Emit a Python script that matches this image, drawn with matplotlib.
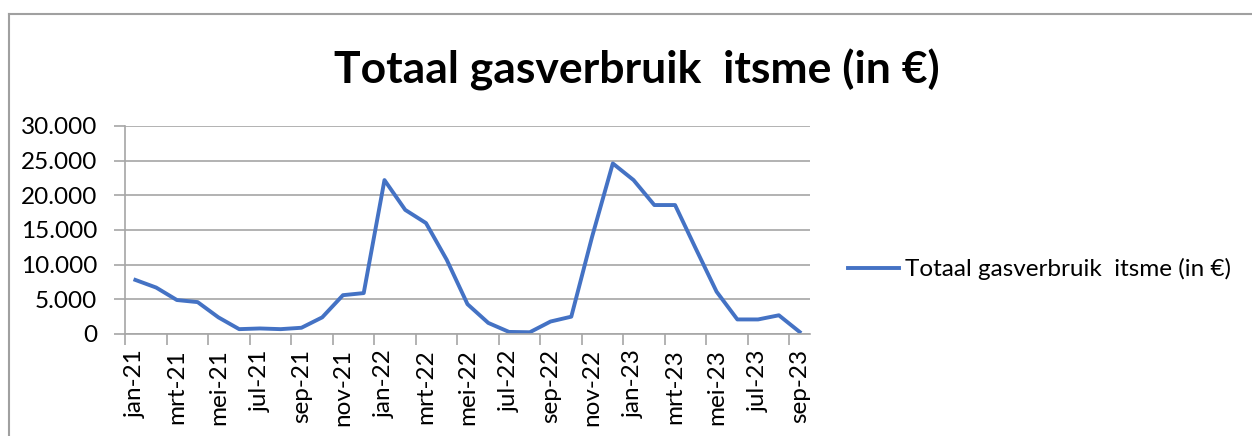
import matplotlib
matplotlib.use("Agg")
import matplotlib.pyplot as plt
from matplotlib.lines import Line2D
from matplotlib.ticker import FuncFormatter, FixedLocator

plt.rcParams['font.family'] = ['Lato', 'DejaVu Sans']

months = ["jan", "feb", "mrt", "apr", "mei", "jun", "jul", "aug", "sep", "okt", "nov", "dec"]
categories = []
for yy in ["21", "22", "23"]:
    for m in months:
        categories.append(f"{m}-{yy}")
categories = categories[:33]  # jan-21 .. sep-23

values = [7800, 6700, 4900, 4600, 2400, 700, 800, 700, 900, 2400, 5600, 5900,
          22200, 17900, 16000, 10700, 4300, 1600, 300, 250, 1800, 2500, 14000, 24600,
          22200, 18600, 18600, 12300, 6100, 2100, 2100, 2700, 300]

series_name = "Totaal gasverbruik  itsme (in €)"
title = "Totaal gasverbruik  itsme (in €)"
yticks = [0, 5000, 10000, 15000, 20000, 25000, 30000]

W, H = 1252, 436
fig = plt.figure(figsize=(W / 100, H / 100), dpi=100)

x0, x1, ytop, ybot = 125, 810, 126, 334
ax = fig.add_axes([x0 / W, 1 - ybot / H, (x1 - x0) / W, (ybot - ytop) / H])

xs = list(range(len(values)))
line, = ax.plot(xs, values, color="#4472C4", lw=2.8, solid_joinstyle="round", label=series_name)

ax.set_xlim(-0.5, len(values) - 0.5)
ax.set_ylim(0, 30000)

grid_c = "#a6a6a6"
fs = 17.5
ax.set_yticks(yticks)
ax.yaxis.set_major_formatter(FuncFormatter(lambda v, p: f"{int(v):,}".replace(",", ".")))
ax.grid(axis="y", color=grid_c, lw=1.2)
ax.set_axisbelow(True)

# x ticks: marks at boundaries every 2 months, labels at category centers
ax.xaxis.set_major_locator(FixedLocator([i - 0.5 for i in range(0, len(values), 2)]))
ax.xaxis.set_minor_locator(FixedLocator(list(range(0, len(values), 2))))
ax.set_xticklabels([])
ax.set_xticklabels([categories[i] for i in range(0, len(values), 2)], minor=True, rotation=90)
ax.tick_params(axis="x", which="major", length=8, color=grid_c, width=1.2, direction="out")
ax.tick_params(axis="x", which="minor", length=0, pad=11, labelsize=fs, labelcolor="black")
ax.tick_params(axis="y", length=8, color=grid_c, width=1.2, labelsize=fs, pad=12)

for s in ["top", "right"]:
    ax.spines[s].set_visible(False)
for s in ["left", "bottom"]:
    ax.spines[s].set_color(grid_c)
    ax.spines[s].set_linewidth(1.2)

fig.text(637 / W, 1 - 70 / H, title, ha="center", va="center", fontsize=32, fontweight="bold")

leg = fig.legend(handles=[line], loc="center left", bbox_to_anchor=(848 / W, 1 - 269 / H),
                 frameon=False, fontsize=fs, handlelength=2.1, handletextpad=0.25,
                 borderpad=0, borderaxespad=0)

# outer chart border (left and top visible)
fig.add_artist(Line2D([8.5 / W, 8.5 / W], [0, 1 - 14 / H], color="#a0a0a0", lw=1.5, transform=fig.transFigure))
fig.add_artist(Line2D([8.5 / W, 1], [1 - 14 / H, 1 - 14 / H], color="#a0a0a0", lw=1.5, transform=fig.transFigure))

fig.savefig("out.png", dpi=100)
